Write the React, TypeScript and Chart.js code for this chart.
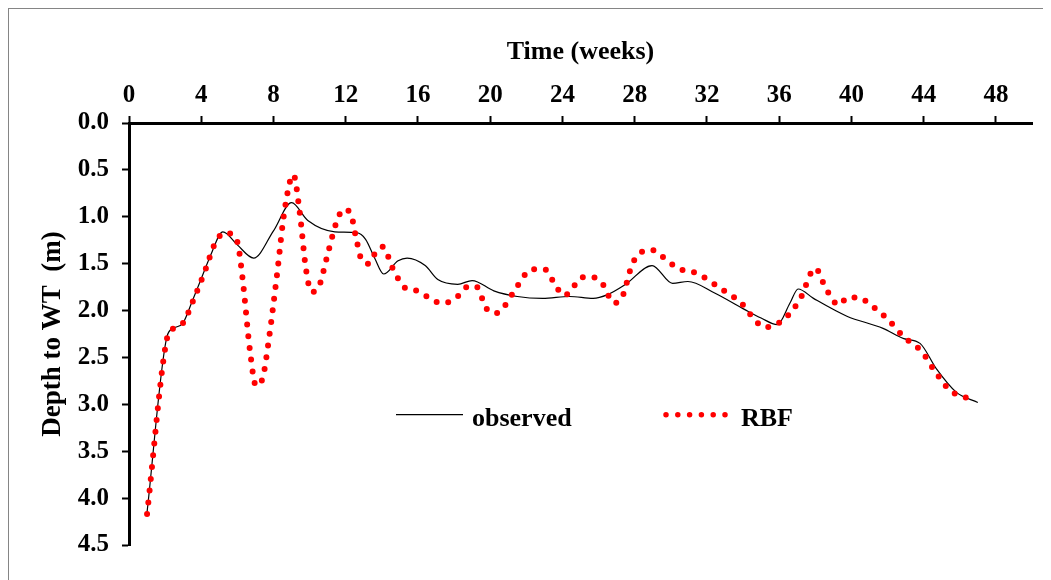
import React, { useEffect, useRef } from "react";
import { Chart, registerables } from "chart.js";

Chart.register(...registerables);

// Observed depth to water table (m) against time (weeks)
const observedWeeks = [
  1, 2.1, 2.45, 3.0, 3.5, 4.0, 4.5, 5.2, 6.0, 6.9, 8.0, 9.0, 9.9, 11.4, 12.6, 13.1, 13.6, 14.1,
  14.9, 15.4, 16.4, 17.1, 18.2, 19.0, 20.2, 21.5, 22.9, 24.4, 25.7, 26.5, 27.5, 28.96, 30.1,
  30.95, 32.4, 34.1, 35.0, 35.9, 36.6, 37.05, 37.9, 39.75, 41.75, 42.9, 43.8, 44.7, 45.8, 47.0,
];
const observedDepth = [
  4.15, 2.28, 2.19, 2.13, 1.9, 1.66, 1.42, 1.16, 1.3, 1.44, 1.15, 0.85, 1.04, 1.16, 1.17, 1.24,
  1.44, 1.61, 1.47, 1.44, 1.52, 1.67, 1.72, 1.68, 1.79, 1.85, 1.87, 1.85, 1.87, 1.83, 1.72, 1.52,
  1.71, 1.69, 1.81, 1.99, 2.08, 2.15, 1.92, 1.77, 1.87, 2.06, 2.19, 2.3, 2.35, 2.62, 2.87, 2.98,
];

// RBF model output
const rbfWeeks = [
  1, 2.1, 2.45, 3.0, 3.56, 4.26, 4.7, 5.3, 5.75, 6.04, 6.3, 6.7, 7.03, 7.4, 7.75, 8.2, 8.6, 9.1,
  9.45, 9.8, 10.1, 10.5, 11.0, 11.5, 11.9, 12.3, 12.6, 12.9, 13.3, 13.65, 14.06, 14.6, 15.3, 16.0,
  16.5, 17.3, 17.7, 18.2, 18.7, 19.2, 19.8, 20.3, 20.8, 21.5, 22.3, 23.0, 23.7, 24.1, 24.6, 25.0,
  25.6, 26.2, 26.86, 27.3, 27.9, 28.9, 29.5, 30.5, 31.1, 31.7, 32.8, 33.9, 34.7, 35.2, 35.8, 36.4,
  37.15, 38.0, 38.6, 39.3, 39.8, 40.4, 41.0, 42.0, 42.9, 43.9, 44.6, 45.4, 46.0, 46.7,
];
const rbfDepth = [
  4.17, 2.3, 2.19, 2.13, 1.89, 1.55, 1.31, 1.17, 1.2, 1.3, 1.68, 2.43, 2.8, 2.72, 2.3, 1.61, 0.95,
  0.55, 0.95, 1.56, 1.8, 1.75, 1.4, 1.05, 0.92, 0.98, 1.25, 1.47, 1.5, 1.38, 1.32, 1.55, 1.76, 1.79,
  1.85, 1.92, 1.91, 1.85, 1.75, 1.74, 1.98, 2.03, 1.95, 1.74, 1.56, 1.56, 1.76, 1.84, 1.75, 1.65,
  1.64, 1.71, 1.92, 1.86, 1.49, 1.35, 1.42, 1.56, 1.58, 1.63, 1.77, 1.92, 2.11, 2.18, 2.15, 2.07,
  1.88, 1.55, 1.77, 1.94, 1.86, 1.86, 1.93, 2.09, 2.28, 2.44, 2.64, 2.84, 2.91, 2.94,
];

const weekTicks = [0, 4, 8, 12, 16, 20, 24, 28, 32, 36, 40, 44, 48];
const depthTicks = [0, 0.5, 1.0, 1.5, 2.0, 2.5, 3.0, 3.5, 4.0, 4.5];

const SERIF = '"Liberation Serif", "Times New Roman", serif';

// Legend drawn inside the plot area, below the curves
const insideLegend = {
  id: "insideLegend",
  afterDatasetsDraw(chart: any) {
    const { ctx, chartArea } = chart;
    const lineY = chartArea.top + 291.7;
    const textY = chartArea.top + 302.7;
    const [obs, rbf] = chart.data.datasets;
    ctx.save();
    // observed sample
    ctx.strokeStyle = obs.borderColor;
    ctx.lineWidth = obs.borderWidth;
    ctx.beginPath();
    ctx.moveTo(chartArea.left + 267, lineY);
    ctx.lineTo(chartArea.left + 334, lineY);
    ctx.stroke();
    // RBF sample
    ctx.strokeStyle = rbf.borderColor;
    ctx.lineWidth = rbf.borderWidth - 0.5;
    ctx.lineCap = "round";
    ctx.setLineDash(rbf.borderDash);
    ctx.beginPath();
    ctx.moveTo(chartArea.left + 537, lineY);
    ctx.lineTo(chartArea.left + 597, lineY);
    ctx.stroke();
    ctx.setLineDash([]);
    // labels
    ctx.fillStyle = "#000";
    ctx.font = `bold 26px ${SERIF}`;
    ctx.textAlign = "left";
    ctx.textBaseline = "alphabetic";
    ctx.fillText(obs.label, chartArea.left + 343, textY);
    ctx.fillText(rbf.label, chartArea.left + 612, textY);
    ctx.restore();
  },
};

export default function App() {
  const canvasRef = useRef<HTMLCanvasElement | null>(null);

  useEffect(() => {
    document.documentElement.style.overflow = "hidden";
    const canvas = canvasRef.current;
    if (!canvas) return;

    const chart = new Chart(canvas, {
      type: "line",
      data: {
        datasets: [
          {
            label: "observed",
            data: observedWeeks.map((w, i) => ({ x: w, y: observedDepth[i] })),
            borderColor: "#000000",
            borderWidth: 1.2,
            pointRadius: 0,
            fill: false,
            cubicInterpolationMode: "monotone",
            order: 1,
          },
          {
            label: "RBF",
            data: rbfWeeks.map((w, i) => ({ x: w, y: rbfDepth[i] })),
            borderColor: "#ff0000",
            borderWidth: 6,
            borderDash: [0, 11.8],
            borderCapStyle: "round",
            pointRadius: 0,
            fill: false,
            cubicInterpolationMode: "monotone",
            order: 0,
          },
        ],
      },
      options: {
        animation: false,
        responsive: true,
        maintainAspectRatio: false,
        layout: { padding: { left: 0, top: 0, right: 17, bottom: 35 } },
        plugins: {
          legend: { display: false },
          tooltip: { enabled: false },
        },
        elements: { point: { radius: 0 } },
        scales: {
          x: {
            type: "linear",
            position: "top",
            min: 0,
            max: 50,
            afterFit: (s: any) => {
              s.height = 114;
            },
            afterBuildTicks: (s: any) => {
              s.ticks = weekTicks.map((v) => ({ value: v }));
            },
            ticks: {
              color: "#000",
              font: { family: SERIF, size: 25, weight: "bold" },
              padding: 5,
              maxRotation: 0,
              autoSkip: false,
            },
            grid: {
              display: true,
              drawOnChartArea: false,
              drawTicks: true,
              tickLength: 7,
              tickWidth: 2,
              tickColor: "#000",
            },
            border: { display: true, color: "#000", width: 3 },
            title: {
              display: true,
              text: "Time (weeks)",
              color: "#000",
              font: { family: SERIF, size: 26, weight: "bold" },
              padding: { top: 28, bottom: 0 },
            },
          },
          y: {
            type: "linear",
            reverse: true,
            min: 0,
            max: 4.5,
            afterFit: (s: any) => {
              s.width = 120;
            },
            afterBuildTicks: (s: any) => {
              s.ticks = depthTicks.map((v) => ({ value: v }));
            },
            ticks: {
              color: "#000",
              font: { family: SERIF, size: 25, weight: "bold" },
              padding: 13,
              autoSkip: false,
              callback: (v: any) => Number(v).toFixed(1),
            },
            grid: {
              display: true,
              drawOnChartArea: false,
              drawTicks: true,
              tickLength: 7,
              tickWidth: 2,
              tickColor: "#000",
            },
            border: { display: true, color: "#000", width: 3 },
            title: {
              display: true,
              text: "Depth to WT  (m)",
              color: "#000",
              font: { family: SERIF, size: 27, weight: "bold" },
              padding: { top: 28, bottom: 0 },
            },
          },
        },
      },
      plugins: [insideLegend],
    } as any);

    return () => chart.destroy();
  }, []);

  return (
    <div
      style={{
        width: 1040,
        height: 571,
        borderTop: "1px solid #858585",
        borderLeft: "1px solid #858585",
        borderRight: "1px solid #858585",
      }}
    >
      <div style={{ position: "relative", width: 1040, height: 571 }}>
        <canvas ref={canvasRef} />
      </div>
    </div>
  );
}
